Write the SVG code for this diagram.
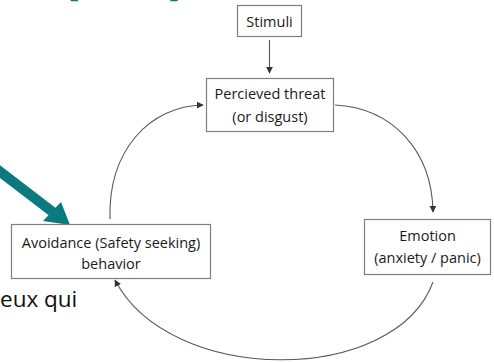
<svg xmlns="http://www.w3.org/2000/svg" width="494" height="362" viewBox="0 0 494 362">
<style>
.box{fill:#fff;stroke:#7f7f7f;stroke-width:1.2}
.lbl{font-family:"Open Sans","Liberation Sans",sans-serif;font-size:14.5px;fill:#1a1a1a;text-anchor:middle}
.con{fill:none;stroke:#595959;stroke-width:1.1}
.title{font-family:"Open Sans","Liberation Sans",sans-serif;font-size:60px;font-weight:bold;fill:#0b7a80}
.body{font-family:"Open Sans","Liberation Sans",sans-serif;font-size:22.5px;fill:#111}
</style>
<defs>
<marker id="ah" viewBox="0 0 10 10" refX="9" refY="5" markerWidth="7" markerHeight="7" markerUnits="userSpaceOnUse" orient="auto">
<path d="M0,0 L10,5 L0,10 z" fill="#333"/>
</marker>
</defs>
<rect width="494" height="362" fill="#fff"/>
<text class="title" x="60" y="-8">(</text>
<text class="title" x="168" y="-8">)</text>
<text class="body" x="0" y="307">eux qui</text>
<g id="teal-arrow">
<line x1="-6" y1="167" x2="54" y2="213" stroke="#0b7a80" stroke-width="10"/>
<polygon points="70,225 43,221 61,202" fill="#0b7a80"/>
</g>
<g id="connectors">
<line class="con" x1="269.5" y1="40" x2="269.5" y2="73" marker-end="url(#ah)"/>
<path class="con" d="M335,105 C392,108 432,150 433,212" marker-end="url(#ah)"/>
<path class="con" d="M433,282 C395,386 170,386 115,280" marker-end="url(#ah)"/>
<path class="con" d="M110,219 C108,150 150,106 203,105" marker-end="url(#ah)"/>
</g>
<g id="stimuli">
<rect class="box" x="237.5" y="5.5" width="64" height="31"/>
<text class="lbl" x="269.5" y="27">Stimuli</text>
</g>
<g id="threat">
<rect class="box" x="206.5" y="78.5" width="127" height="53"/>
<text class="lbl" x="270" y="99">Percieved threat</text>
<text class="lbl" x="270" y="122">(or disgust)</text>
</g>
<g id="emotion">
<rect class="box" x="364.5" y="219.5" width="126" height="55"/>
<text class="lbl" x="427.5" y="241">Emotion</text>
<text class="lbl" x="427.5" y="263">(anxiety / panic)</text>
</g>
<g id="avoidance">
<rect class="box" x="11.5" y="224.5" width="199" height="54"/>
<text class="lbl" x="111" y="248">Avoidance (Safety seeking)</text>
<text class="lbl" x="111" y="269">behavior</text>
</g>
</svg>
